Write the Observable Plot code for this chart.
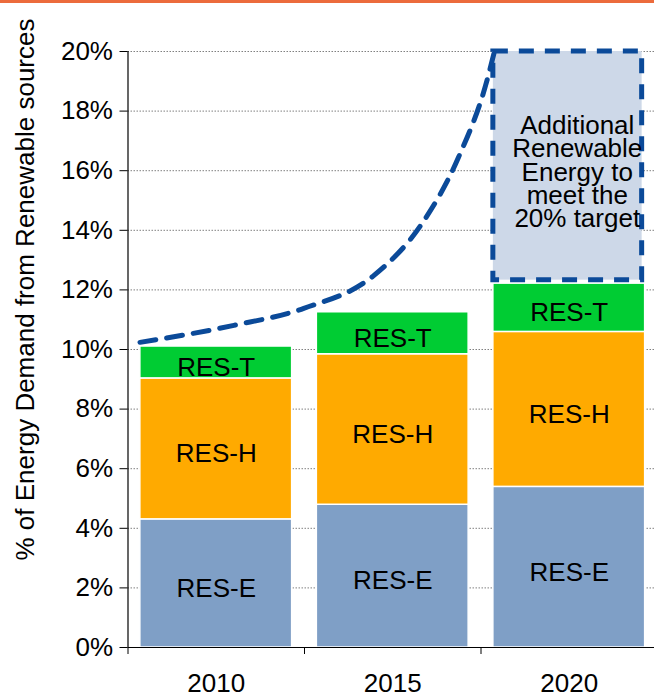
<!DOCTYPE html>
<html>
<head>
<meta charset="utf-8">
<script src="https://cdn.jsdelivr.net/npm/d3@7"></script>
<script src="https://cdn.jsdelivr.net/npm/@observablehq/plot@0.6"></script>
<style>
  html, body { margin: 0; padding: 0; background: #fff; overflow: hidden; }
  #wrap { position: relative; width: 654px; height: 693px; }
  #topline { position: absolute; left: 0; top: 0; width: 654px; height: 3px; background: #ec6b3c; }
  #chart { position: absolute; left: 0; top: 0; }
</style>
</head>
<body>
<div id="wrap"><div id="chart"></div><div id="topline"></div></div>
<script>
// ---- data ----
const years = [2010, 2015, 2020];
const series = ["RES-E", "RES-H", "RES-T"];
const resE = [4.30, 4.79, 5.39];
const resH = [4.73, 5.05, 5.20];
const resT = [1.07, 1.41, 1.62];
const targetShare = 20;
const targetYear = 2020;
const targetText = "Additional\nRenewable\nEnergy to\nmeet the\n20% target";
const trendYear  = [2007.84, 2010.50, 2012.48, 2014.46, 2015.83, 2016.86, 2017.67, 2017.88];
const trendShare = [10.24, 10.81, 11.38, 12.48, 14.23, 16.44, 19.03, 20.0];
const yTicks = [0, 2, 4, 6, 8, 10, 12, 14, 16, 18, 20];
const boundaryTicks = [2007.5, 2012.5, 2017.5, 2022.5];
const yLabel = "% of Energy Demand from Renewable sources";

// ---- build tables ----
const seriesValues = [resE, resH, resT];
const colors = ["#7f9fc6", "#ffaa00", "#00cc33"];
const rows = [];
years.forEach((yr, i) => {
  let acc = 0;
  seriesValues.forEach((vals, s) => {
    rows.push({year: yr, series: series[s], y1: acc, y2: acc + vals[i]});
    acc += vals[i];
  });
});
const total2020 = rows.filter(r => r.year === targetYear).reduce((m, r) => Math.max(m, r.y2), 0);
const targetBox = [{year: targetYear, y1: total2020, y2: targetShare, text: targetText}];
const trend = trendYear.map((x, i) => ({x, y: trendShare[i]}));

const half = 2.15;
const blue = "#0b4a99";
const FS = 26;

const chart = Plot.plot({
  width: 654,
  height: 693,
  marginTop: 51,
  marginBottom: 46,
  marginLeft: 127.5,
  marginRight: -3,
  style: {fontFamily: "'Liberation Sans', Arial, sans-serif", fontSize: FS + "px", color: "#000", background: "transparent", overflow: "visible"},
  x: {domain: [2007.5, 2022.5], axis: null},
  y: {domain: [0, 20], axis: null},
  color: {domain: series, range: colors},
  marks: [
    Plot.gridY(yTicks.filter(d => d > 0), {stroke: "#808080", strokeOpacity: 1, strokeWidth: 1, strokeDasharray: "1.5,1.5"}),
    Plot.rect(rows, {x1: d => d.year - half, x2: d => d.year + half, y1: "y1", y2: "y2", fill: "series", stroke: "white", strokeWidth: 1.5}),
    Plot.rect(targetBox, {x1: d => d.year - half, x2: d => d.year + half, y1: "y1", y2: "y2",
      fill: "#cdd8e8", stroke: blue, strokeWidth: 5, strokeDasharray: "15,11", insetBottom: 3.5, insetRight: 3}),
    Plot.line(trend, {x: "x", y: "y", curve: "monotone-x", stroke: blue, strokeWidth: 5, strokeDasharray: "16,11"}),
    Plot.text(rows, {x: "year", y: d => (d.y1 + d.y2) / 2, text: "series", fontSize: FS, dy: 5, fill: "#000"}),
    Plot.text(targetBox, {x: "year", y: d => (d.y1 + d.y2) / 2, text: "text", fontSize: FS, lineHeight: 0.9, dx: 8, dy: 5.5, fill: "#000"}),
    Plot.ruleX([2007.5], {stroke: "#000", strokeWidth: 1.2}),
    Plot.ruleY([0], {stroke: "#000", strokeWidth: 1.2}),
    Plot.axisY(yTicks, {tickFormat: d => d + "%", tickSize: 8, tickPadding: 7, fontSize: FS, label: null}),
    Plot.axisX(years, {tickFormat: d => String(d), tickSize: 0, tickPadding: 26.5, fontSize: FS, label: null}),
    Plot.axisX(boundaryTicks, {tickFormat: () => "", tickSize: 7, label: null}),
    Plot.text([yLabel], {frameAnchor: "left", textAnchor: "middle", rotate: -90, text: d => d, fontSize: FS, dx: -102.8, dy: -60, fill: "#000"})
  ]
});
document.getElementById("chart").appendChild(chart);
</script>
</body>
</html>
